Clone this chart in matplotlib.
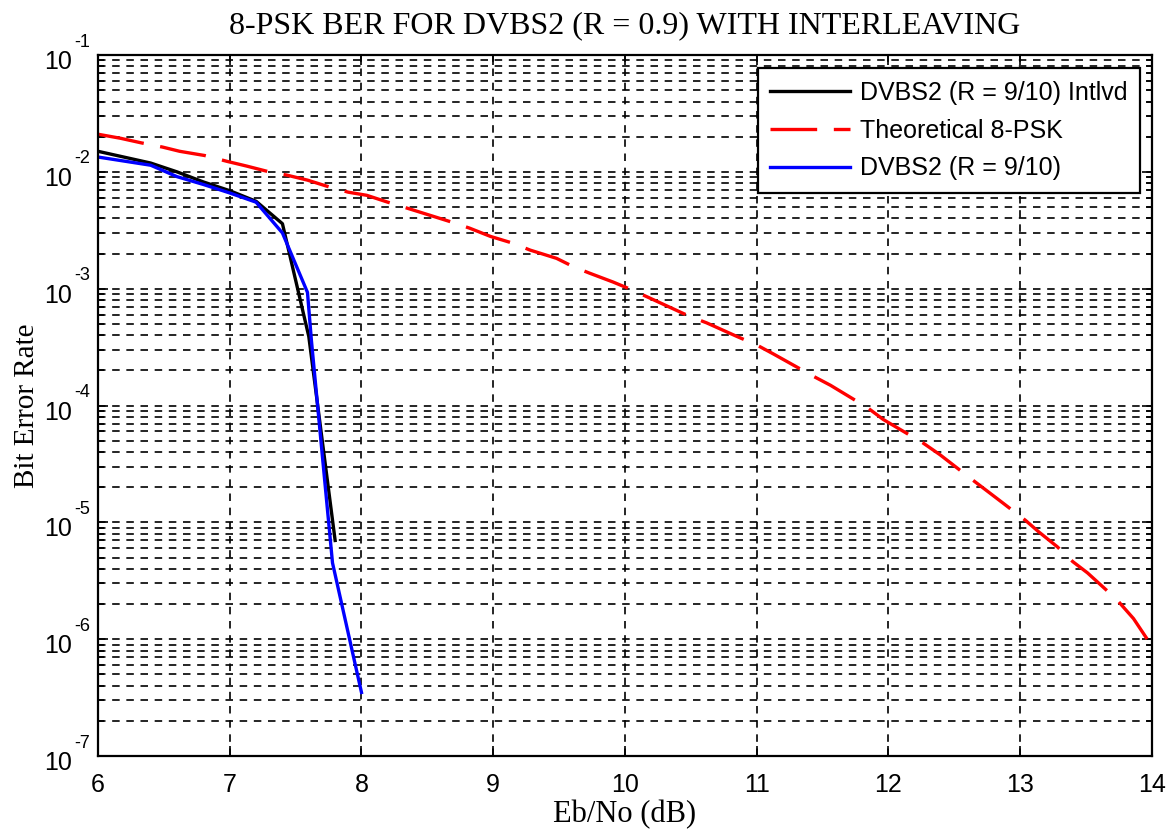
import matplotlib
matplotlib.use("Agg")
import matplotlib.pyplot as plt
from matplotlib.ticker import LogLocator, FixedLocator, NullFormatter
from matplotlib.transforms import blended_transform_factory, offset_copy

# values
ebno_intlvd = [6.0, 6.4, 6.6, 6.8, 7.0, 7.2, 7.4, 7.6, 7.8]
ber_intlvd = [1.5e-2, 1.19e-2, 1.0e-2, 8.2e-3, 6.9e-3, 5.6e-3, 3.6e-3, 3.9e-4, 7.0e-6]

ebno_dvbs2 = [6.0, 6.4, 6.6, 6.8, 7.0, 7.2, 7.4, 7.59, 7.62, 7.78, 8.0]
ber_dvbs2 = [1.34e-2, 1.14e-2, 9.1e-3, 7.8e-3, 6.6e-3, 5.5e-3, 3.0e-3, 9.3e-4, 3.6e-4, 4.5e-6, 3.5e-7]

ebno_theory = [6.0, 6.17, 6.33, 6.49, 6.62, 6.81, 6.98, 7.13, 7.3, 7.43, 7.59, 7.76,
               7.9, 8.04, 8.2, 8.37, 8.69, 8.82, 8.98, 9.15, 9.28, 9.48, 9.61, 9.73,
               9.91, 10.05, 10.17, 10.49, 10.62, 10.85, 11.0, 11.13, 11.43, 11.56,
               11.84, 11.96, 12.26, 12.39, 12.64, 12.77, 12.87, 13.04, 13.14, 13.28,
               13.4, 13.51, 13.73, 13.86, 14.0]
ber_theory = [2.1e-2, 1.94e-2, 1.77e-2, 1.63e-2, 1.5e-2, 1.38e-2, 1.23e-2, 1.12e-2,
              1.0e-2, 9.4e-3, 8.5e-3, 7.4e-3, 6.7e-3, 6.3e-3, 5.5e-3, 4.8e-3, 3.7e-3,
              3.3e-3, 2.8e-3, 2.45e-3, 2.14e-3, 1.82e-3, 1.54e-3, 1.36e-3, 1.14e-3,
              9.8e-4, 8.5e-4, 5.8e-4, 5.1e-4, 3.9e-4, 3.3e-4, 2.75e-4, 1.78e-4,
              1.49e-4, 9.6e-5, 7.6e-5, 4.8e-5, 3.8e-5, 2.3e-5, 1.78e-5, 1.46e-5,
              1.04e-5, 8.3e-6, 6.2e-6, 4.6e-6, 3.7e-6, 2.2e-6, 1.5e-6, 8.7e-7]

legend_labels = ['DVBS2 (R = 9/10) Intlvd', 'Theoretical 8-PSK', 'DVBS2 (R = 9/10)']
x_ticks = [6, 7, 8, 9, 10, 11, 12, 13, 14]
y_exponents = [-7, -6, -5, -4, -3, -2, -1]

plt.rcParams['font.family'] = ['Liberation Sans', 'DejaVu Sans']

fig = plt.figure(figsize=(11.75, 8.34), dpi=100)
ax = fig.add_axes([0.0834, 0.0935, 0.897, 0.8405])

ax.plot(ebno_intlvd, ber_intlvd, color='k', lw=2.4, label=legend_labels[0])
ax.plot(ebno_theory, ber_theory, color='r', lw=2.4, dashes=(14, 5), label=legend_labels[1])
ax.plot(ebno_dvbs2, ber_dvbs2, color='b', lw=2.4, label=legend_labels[2])

ax.set_yscale('log')
ax.set_xlim(6, 14)
ax.set_ylim(1e-7, 1e-1)

ax.xaxis.set_major_locator(FixedLocator(x_ticks))
ax.yaxis.set_major_locator(FixedLocator([10.0 ** e for e in y_exponents]))
ax.yaxis.set_minor_locator(LogLocator(base=10, subs=range(2, 10), numticks=20))
ax.yaxis.set_minor_formatter(NullFormatter())
ax.yaxis.set_major_formatter(NullFormatter())

# matlab style "10" with the exponent raised above the tick
trans = blended_transform_factory(ax.transAxes, ax.transData)
for e in y_exponents:
    t_base = offset_copy(trans, fig=fig, x=-26, y=-7, units='dots')
    ax.text(0, 10.0 ** e, '10', transform=t_base, ha='right', va='center', fontsize=18)
    t_exp = offset_copy(trans, fig=fig, x=-24, y=13, units='dots')
    ax.text(0, 10.0 ** e, str(e), transform=t_exp, ha='left', va='center', fontsize=13)

grid_style = dict(color='k', lw=1.2, linestyle=(0, (4.5, 4)))
ax.grid(True, which='major', axis='both', **grid_style)
ax.grid(True, which='minor', axis='y', **grid_style)

ax.tick_params(which='both', direction='in', top=True, right=True, labelsize=18, width=1.2)
ax.tick_params(which='major', length=7)
ax.tick_params(which='minor', length=4)
ax.tick_params(axis='x', pad=12)
for s in ax.spines.values():
    s.set_linewidth(1.6)

ax.set_title('8-PSK BER FOR DVBS2 (R = 0.9) WITH INTERLEAVING',
             family='Liberation Serif', fontsize=23, pad=16)
ax.set_xlabel('Eb/No (dB)', family='Liberation Serif', fontsize=22, labelpad=2)
ax.set_ylabel('Bit Error Rate', family='Liberation Serif', fontsize=21, labelpad=38)

leg = ax.legend(loc='upper right', bbox_to_anchor=(0.989, 0.981), borderaxespad=0,
                fontsize=18, fancybox=False, framealpha=1, edgecolor='k',
                handlelength=3.2, handletextpad=0.4, labelspacing=0.55, borderpad=0.5)
leg.get_frame().set_linewidth(1.6)

fig.savefig('out.png', dpi=100)
